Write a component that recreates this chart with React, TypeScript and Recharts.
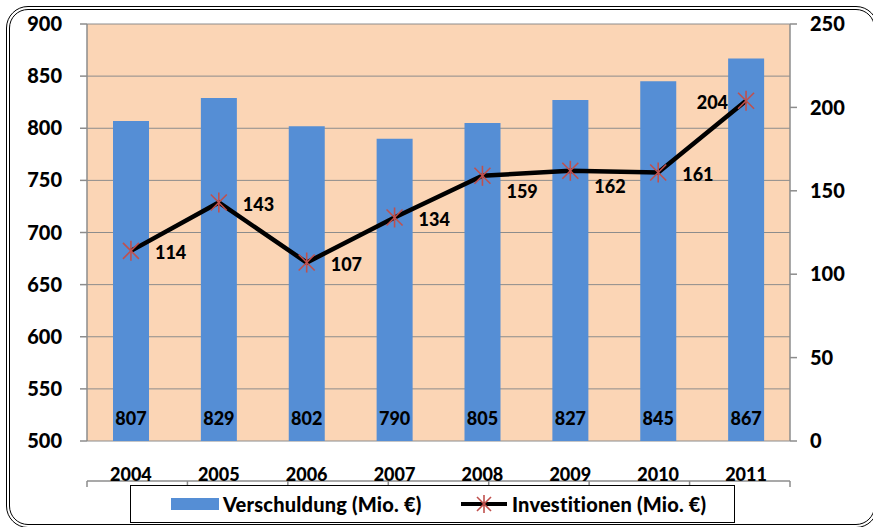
import React from 'react';
import { ComposedChart, Bar, Line, XAxis, YAxis, CartesianGrid, LabelList } from 'recharts';

const years = ['2004', '2005', '2006', '2007', '2008', '2009', '2010', '2011'];
const verschuldung = [807, 829, 802, 790, 805, 827, 845, 867];
const investitionen = [114, 143, 107, 134, 159, 162, 161, 204];
const leftTicks = [500, 550, 600, 650, 700, 750, 800, 850, 900];
const rightTicks = [0, 50, 100, 150, 200, 250];
const boundaryTicks = [0, 1, 2, 3, 4, 5, 6, 7, 8];

const data = years.map((y, i) => ({ year: y, v: verschuldung[i], inv: investitionen[i] }));

const FONT = 'Lato, "Open Sans", sans-serif';
const W = 900;
const BLUE = '#558ED5';
const PEACH = '#FBD5B5';
const GRID = '#8C8C8C';
const RED = '#C0504D';

// label placement relative to the point, per index
const placement = ['r', 'r', 'r', 'r', 'br', 'br', 'r', 'l'];

const Star = (props: any) => {
  const { cx, cy } = props;
  if (cx == null || cy == null) return null;
  const h = 10;
  const d = 8;
  return (
    <g stroke={RED} strokeWidth={1.6}>
      <line x1={cx - d} y1={cy - d} x2={cx + d} y2={cy + d} />
      <line x1={cx - d} y1={cy + d} x2={cx + d} y2={cy - d} />
      <line x1={cx} y1={cy - h} x2={cx} y2={cy + h} />
    </g>
  );
};

const LineLabel = (props: any) => {
  const { x, y, value, index } = props;
  const p = placement[index] || 'r';
  let tx = x + 24;
  let ty = y + 2;
  let anchor: any = 'start';
  if (p === 'br') {
    ty = y + 16;
  } else if (p === 'l') {
    tx = x - 18;
    anchor = 'end';
  }
  return (
    <text x={tx} y={ty} dy="0.36em" textAnchor={anchor} fontFamily={FONT} fontWeight={W} fontSize={18} fill="#000">
      {value}
    </text>
  );
};

const StarIcon = ({ cx, cy }: { cx: number; cy: number }) => (
  <svg width={50} height={20} style={{ position: 'absolute', left: cx - 25, top: cy - 10 }}>
    <line x1={2} y1={10} x2={48} y2={10} stroke="#000" strokeWidth={4} />
    <g stroke={RED} strokeWidth={1.6}>
      <line x1={18} y1={3} x2={32} y2={17} />
      <line x1={18} y1={17} x2={32} y2={3} />
      <line x1={25} y1={1} x2={25} y2={19} />
    </g>
  </svg>
);

export default function App() {
  return (
    <div style={{ position: 'absolute', left: 0, top: 0, width: 873, height: 527, background: '#fff', overflow: 'hidden' }}>
      <div
        style={{
          position: 'absolute',
          left: 6,
          top: 6,
          width: 872,
          height: 522,
          boxSizing: 'border-box',
          border: '4px double #000',
          borderRadius: 22,
        }}
      />
      <div style={{ position: 'absolute', left: 0, top: 0 }}>
        <ComposedChart width={873} height={527} data={data} margin={{ top: 24, right: 0, bottom: 45, left: 0 }}>
          <CartesianGrid yAxisId="left" xAxisId="cat" vertical={false} fill={PEACH} stroke={GRID} strokeWidth={1} />
          <XAxis
            xAxisId="num"
            type="number"
            domain={[0, 8]}
            ticks={boundaryTicks}
            height={1}
            axisLine={{ stroke: GRID, strokeWidth: 1.5 }}
            tickLine={{ stroke: GRID, strokeWidth: 1.5 }}
            tickSize={6}
            tick={() => <g />}
            allowDataOverflow
          />
          <XAxis
            xAxisId="cat"
            dataKey="year"
            height={40}
            axisLine={false}
            tickLine={false}
            tickSize={0}
            tickMargin={27}
            interval={0}
            tick={{ fontFamily: FONT, fontWeight: W, fontSize: 18, fill: '#000' }}
          />
          <YAxis
            yAxisId="left"
            orientation="left"
            width={87}
            domain={[500, 900]}
            ticks={leftTicks}
            interval={0}
            axisLine={{ stroke: GRID, strokeWidth: 1.5 }}
            tickLine={{ stroke: GRID, strokeWidth: 1.5 }}
            tickSize={7}
            tickMargin={18}
            tick={{ fontFamily: FONT, fontWeight: W, fontSize: 20, fill: '#000' }}
          />
          <YAxis
            yAxisId="right"
            orientation="right"
            width={83}
            domain={[0, 250]}
            ticks={rightTicks}
            interval={0}
            axisLine={{ stroke: GRID, strokeWidth: 1.5 }}
            tickLine={{ stroke: GRID, strokeWidth: 1.5 }}
            tickSize={7}
            tickMargin={13}
            tick={{ fontFamily: FONT, fontWeight: W, fontSize: 20, fill: '#000' }}
          />
          <Bar xAxisId="cat" yAxisId="left" dataKey="v" fill={BLUE} barSize={36} isAnimationActive={false}>
            <LabelList
              dataKey="v"
              position="insideBottom"
              offset={16}
              style={{ fontFamily: FONT, fontWeight: W, fontSize: 18, fill: '#000' }}
            />
          </Bar>
          <Line
            xAxisId="cat"
            yAxisId="right"
            dataKey="inv"
            stroke="#000"
            strokeWidth={4.5}
            dot={<Star />}
            activeDot={false}
            isAnimationActive={false}
          >
            <LabelList dataKey="inv" content={<LineLabel />} />
          </Line>
        </ComposedChart>
      </div>
      <div
        style={{
          position: 'absolute',
          left: 130,
          top: 485,
          width: 605,
          height: 38,
          boxSizing: 'border-box',
          border: '1.5px solid #000',
          background: '#fff',
          fontFamily: FONT,
          fontWeight: W,
          fontSize: 20,
          letterSpacing: 0.2,
          color: '#000',
        }}
      >
        <div style={{ position: 'absolute', left: 40, top: 12, width: 48, height: 12, background: BLUE }} />
        <div style={{ position: 'absolute', left: 92, top: 5, lineHeight: '26px', whiteSpace: 'nowrap' }}>Verschuldung (Mio. €)</div>
        <StarIcon cx={353} cy={18} />
        <div style={{ position: 'absolute', left: 381, top: 5, lineHeight: '26px', whiteSpace: 'nowrap' }}>Investitionen (Mio. €)</div>
      </div>
    </div>
  );
}
